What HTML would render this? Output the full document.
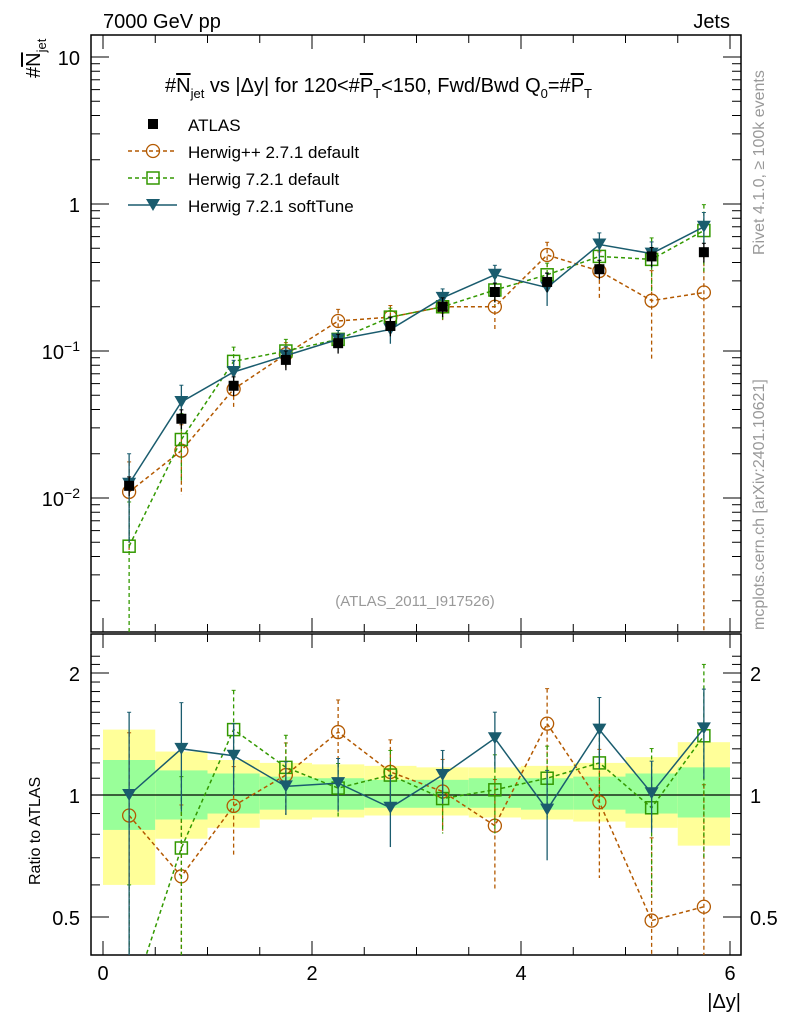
<!DOCTYPE html>
<html><head><meta charset="utf-8"><style>
html,body{margin:0;padding:0;background:#fff;overflow:hidden;width:786px;height:1024px;}
svg{display:block;}
svg text{font-family:"Liberation Sans",sans-serif;}
</style></head><body>
<svg id="c" width="786" height="1024" xmlns="http://www.w3.org/2000/svg"></svg>
<script>
const xCenters=[0.25,0.75,1.25,1.75,2.25,2.75,3.25,3.75,4.25,4.75,5.25,5.75];
const atlasVals=[0.0121,0.0346,0.058,0.087,0.113,0.148,0.20,0.252,0.295,0.36,0.44,0.47];
const hppVals=[0.011,0.021,0.055,0.095,0.16,0.17,0.20,0.20,0.45,0.35,0.22,0.25];
const h7Vals=[0.0047,0.025,0.085,0.10,0.12,0.17,0.20,0.26,0.33,0.44,0.42,0.66];
const softVals=[0.0125,0.045,0.072,0.093,0.12,0.14,0.23,0.33,0.27,0.53,0.46,0.70];
const hppRatio=[0.89,0.63,0.94,1.12,1.43,1.14,1.02,0.84,1.5,0.96,0.49,0.53];
const h7Ratio=[0.30,0.74,1.45,1.17,1.04,1.12,0.98,1.03,1.10,1.2,0.93,1.40];
const softRatio=[1.0,1.3,1.25,1.05,1.07,0.93,1.12,1.38,0.92,1.45,1.01,1.46];
const hppErr=[0.6,0.5,0.25,0.2,0.2,0.2,0.2,0.3,0.22,0.35,0.6,1.0];
const h7Err=[1.0,0.5,0.25,0.2,0.15,0.15,0.18,0.22,0.2,0.2,0.4,0.5];
const softErr=[0.6,0.3,0.2,0.15,0.15,0.2,0.15,0.16,0.25,0.2,0.2,0.25];
const yelHi=[1.45,1.28,1.22,1.20,1.19,1.18,1.17,1.17,1.18,1.2,1.24,1.35];
const yelLo=[0.6,0.78,0.83,0.87,0.88,0.89,0.89,0.88,0.87,0.86,0.83,0.75];
const grnHi=[1.22,1.15,1.13,1.11,1.10,1.09,1.09,1.10,1.10,1.11,1.13,1.17];
const grnLo=[0.82,0.87,0.9,0.92,0.92,0.93,0.93,0.93,0.92,0.92,0.9,0.88];
const xTicks=[0,2,4,6];

const S=document.getElementById('c');const NS='http://www.w3.org/2000/svg';
function mk(t,a,p){const e=document.createElementNS(NS,t);for(const k in a)e.setAttribute(k,a[k]);(p||S).appendChild(e);return e;}
const X=v=>103+v*104.5;
const YT=v=>204-147*Math.log10(v);
const YR=v=>795-122*Math.log2(v);
const L=91,R=741,T1=35,B1=632,T2=634,B2=955;
const bands=mk('g',{});

xCenters.forEach((c,i)=>{
 const r1=mk('rect',{x:X(c-0.25),y:YR(yelHi[i]),width:X(0.5)-X(0),height:YR(yelLo[i])-YR(yelHi[i]),fill:'#ffff99'},bands);
 
 const r2=mk('rect',{x:X(c-0.25),y:YR(grnHi[i]),width:X(0.5)-X(0),height:YR(grnLo[i])-YR(grnHi[i]),fill:'#99ff99'},bands);
 
});
mk('line',{x1:L,x2:R,y1:795,y2:795,stroke:'#000','stroke-width':1.3});
const f1=mk('rect',{x:L,y:T1,width:R-L,height:B1-T1,fill:'none',stroke:'#000','stroke-width':1.5});

const f2=mk('rect',{x:L,y:T2,width:R-L,height:B2-T2,fill:'none',stroke:'#000','stroke-width':1.5});

for(let v=0;v<=6.01;v+=0.5){const big=Math.abs(v-Math.round(v/2)*2)<0.01;const len=big?14:8;
 [[T1,1],[B1,-1],[T2,1],[B2,-1]].forEach(([y,d])=>mk('line',{x1:X(v),x2:X(v),y1:y,y2:y+d*len,stroke:'#000','stroke-width':1}));}
xTicks.forEach(v=>{const t=mk('text',{x:X(v),y:980,'font-size':20,'text-anchor':'middle'});t.textContent=v;
 });
for(let d=-3;d<=1;d++)for(let m=1;m<10;m++){const v=m*Math.pow(10,d);const y=YT(v);if(y<T1||y>B1)continue;const len=m==1?18:9;
 mk('line',{x1:L,x2:L+len,y1:y,y2:y,stroke:'#000'});mk('line',{x1:R,x2:R-len,y1:y,y2:y,stroke:'#000'});}
[['10<tspan dy="-8" font-size="14">−2</tspan>',0.01],['10<tspan dy="-8" font-size="14">−1</tspan>',0.1],['1',1],['10',10]].forEach(([s,v])=>{
 const t=mk('text',{x:80,y:YT(v)+8,'font-size':20,'text-anchor':'end'});t.innerHTML=s;
 });
for(let m=4;m<=22;m++){const v=m/10;const y=YR(v);if(y<T2||y>B2)continue;const big=(m==5||m==10||m==20);const len=big?18:9;
 mk('line',{x1:L,x2:L+len,y1:y,y2:y,stroke:'#000'});mk('line',{x1:R,x2:R-len,y1:y,y2:y,stroke:'#000'});}
[['0.5',0.5],['1',1],['2',2]].forEach(([s,v])=>{
 const a=mk('text',{x:80,y:YR(v)+8,'font-size':20,'text-anchor':'end'});a.textContent=s;
 
 const b=mk('text',{x:750,y:YR(v)+8,'font-size':20}); b.textContent=s;
 });
const defs=mk('defs',{});
const c1=mk('clipPath',{id:'ct'},defs);mk('rect',{x:L,y:T1,width:R-L,height:B1-T1},c1);
const c2=mk('clipPath',{id:'cr'},defs);mk('rect',{x:L,y:T2,width:R-L,height:B2-T2},c2);
function marker(g,type,x,y,col){
 let e;
 if(type=='sq') e=mk('rect',{x:x-5,y:y-5,width:10,height:10,fill:'#000'},g);
 else if(type=='circ') e=mk('circle',{cx:x,cy:y,r:6.5,fill:'none',stroke:col,'stroke-width':1.3},g);
 else if(type=='osq') e=mk('rect',{x:x-6,y:y-6,width:12,height:12,fill:'none',stroke:col,'stroke-width':1.5},g);
 else e=mk('path',{d:`M${x-7} ${y-6}L${x+7} ${y-6}L${x} ${y+6}Z`,fill:col},g);
 return e;}
function series(name,vals,errs,Y,clip,col,dash,type,line){
 const g=mk('g',{'clip-path':'url(#'+clip+')'});
 
 if(line){mk('polyline',{points:xCenters.map((c,i)=>X(c)+','+Y(vals[i])).join(' '),fill:'none',stroke:col,'stroke-width':1.5,'stroke-dasharray':dash},g);}
 xCenters.forEach((c,i)=>{const x=X(c);const hi=vals[i]*(1+errs[i]);const lo=Math.max(vals[i]*(1-errs[i]),1e-4);
  mk('line',{x1:x,x2:x,y1:Y(hi),y2:Y(lo),stroke:col,'stroke-width':1.3,'stroke-dasharray':dash},g);
  mk('line',{x1:x-2,x2:x+2,y1:Y(hi),y2:Y(hi),stroke:col},g);
  const m=marker(g,type,x,Y(vals[i]),col);
  });
}
const atlasErr=atlasVals.map(()=>0.15);
series('herwigpp-271-series',hppVals,hppErr,YT,'ct','#b35900','4,3','circ',true);
series('herwig-721-default-series',h7Vals,h7Err,YT,'ct','#339900','4,3','osq',true);
series('herwig-721-softtune-series',softVals,softErr,YT,'ct','#1a5c6e','','tri',true);
series('atlas-data-series',atlasVals,atlasErr,YT,'ct','#000','','sq',false);
series('herwigpp-271-ratio',hppRatio,hppErr,YR,'cr','#b35900','4,3','circ',true);
series('herwig-721-default-ratio',h7Ratio,h7Err,YR,'cr','#339900','4,3','osq',true);
series('herwig-721-softtune-ratio',softRatio,softErr,YR,'cr','#1a5c6e','','tri',true);
const lg=mk('g',{});
const items=[['ATLAS','#000','','sq',false],['Herwig++ 2.7.1 default','#b35900','4,3','circ',true],['Herwig 7.2.1 default','#339900','4,3','osq',true],['Herwig 7.2.1 softTune','#1a5c6e','','tri',true]];
items.forEach((it,i)=>{const y=124+i*27;const g=mk('g',{},lg);
 
 if(it[4])mk('line',{x1:128,x2:177,y1:y,y2:y,stroke:it[1],'stroke-width':1.4,'stroke-dasharray':it[2]},g);
 marker(g,it[3],153,y,it[1]);
 const t=mk('text',{x:188,y:y+7,'font-size':17},g);t.textContent=it[0];});
function txt(name,attrs,html){const t=mk('text',attrs);t.innerHTML=html;return t;}
txt('energy-label',{x:103,y:28,'font-size':20},'7000 GeV pp');
txt('process-label',{x:730,y:28,'font-size':20,'text-anchor':'end'},'Jets');
txt('plot-title',{x:165,y:92,'font-size':20},'#<tspan text-decoration="overline">N</tspan><tspan dy="6" font-size="13">jet</tspan><tspan dy="-6"> vs |Δy| for 120&lt;#</tspan><tspan text-decoration="overline">P</tspan><tspan dy="6" font-size="13">T</tspan><tspan dy="-6">&lt;150, Fwd/Bwd Q</tspan><tspan dy="6" font-size="13">0</tspan><tspan dy="-6">=#</tspan><tspan text-decoration="overline">P</tspan><tspan dy="6" font-size="13">T</tspan>');
txt('analysis-id',{x:415,y:606,'font-size':15,fill:'#999','text-anchor':'middle'},'(ATLAS_2011_I917526)');
txt('y-axis-title',{transform:'translate(40,78) rotate(-90)','font-size':20},'#<tspan text-decoration="overline">N</tspan><tspan dy="6" font-size="13">jet</tspan>');
txt('ratio-axis-title',{transform:'translate(40,885) rotate(-90)','font-size':16},'Ratio to ATLAS');
txt('x-axis-title',{x:741,y:1008,'font-size':20,'text-anchor':'end'},'|Δy|');
txt('rivet-label',{transform:'translate(764,255) rotate(-90)','font-size':16,fill:'#999'},'Rivet 4.1.0, ≥ 100k events');
txt('mcplots-label',{transform:'translate(764,630) rotate(-90)','font-size':16,fill:'#999'},'mcplots.cern.ch [arXiv:2401.10621]');
</script>
</body></html>
